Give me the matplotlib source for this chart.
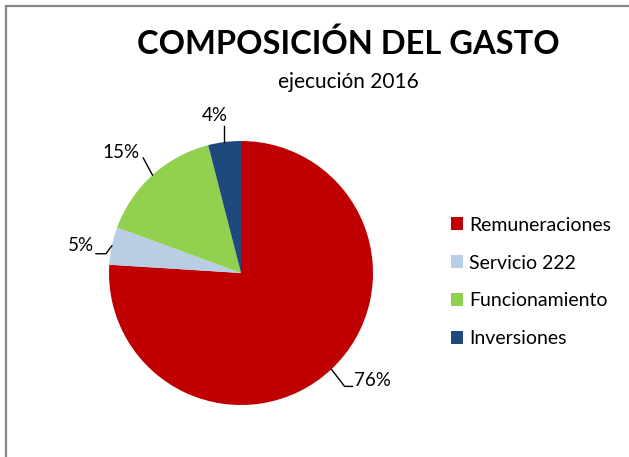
import numpy as np
import matplotlib
matplotlib.use("Agg")
import matplotlib.pyplot as plt
from matplotlib.patches import Rectangle, Patch

categories = ["Remuneraciones", "Servicio 222", "Funcionamiento", "Inversiones"]
values = [76.0, 4.6, 15.4, 4.0]
pct_labels = ["76%", "5%", "15%", "4%"]
colors = ["#C00000", "#B9CDE5", "#92D050", "#1F497D"]
title = "COMPOSICIÓN DEL GASTO"
subtitle = "ejecución 2016"

plt.rcParams['font.family'] = ['Lato', 'DejaVu Sans']

W, H = 629, 457
fig = plt.figure(figsize=(W / 100, H / 100), dpi=100)

# outer chart border (extends past right / bottom)
fig.patches.append(Rectangle((6.5 / W, -0.1), 1.2, (H - 6.5) / H + 0.1,
                             transform=fig.transFigure, fill=False,
                             edgecolor="#868686", linewidth=1.6))

R = 132.0
cx, cy = 241.0, H - 273.0
xl, xr, yb, yt = -1.6, 1.6, -1.3, 1.5
ax = fig.add_axes([(cx + xl * R) / W, (cy + yb * R) / H,
                   (xr - xl) * R / W, (yt - yb) * R / H])
wedges, _ = ax.pie(values, colors=colors, startangle=90, counterclock=False,
                   radius=1.0, wedgeprops=dict(linewidth=0))
ax.set_xlim(xl, xr)
ax.set_ylim(yb, yt)
ax.set_aspect('equal', adjustable='box')
ax.axis('off')

lab_fs = 13.5
for w, lab in zip(wedges, pct_labels):
    mid = np.deg2rad((w.theta1 + w.theta2) / 2.0)
    ex, ey = np.cos(mid), np.sin(mid)
    if lab == "4%":
        p1 = (ex, ey)
        p2 = (ex, ey + 0.12)
        ax.plot([p1[0], p2[0]], [p1[1], p2[1]], color="black", lw=1.0)
        ax.text(ex - 0.07, ey + 0.14, lab, ha="center", va="bottom", fontsize=lab_fs)
    elif lab == "15%":
        p1 = (ex, ey)
        p2 = (ex - 0.07, ey + 0.13)
        ax.plot([p1[0], p2[0]], [p1[1], p2[1]], color="black", lw=1.0)
        ax.text(ex - 0.1, ey + 0.17, lab, ha="right", va="center", fontsize=lab_fs)
    elif lab == "5%":
        p1 = (ex, ey)
        p2 = (ex - 0.045, ey - 0.06)
        p3 = (ex - 0.12, ey - 0.06)
        ax.plot([p1[0], p2[0], p3[0]], [p1[1], p2[1], p3[1]], color="black", lw=1.0)
        ax.text(ex - 0.135, ey + 0.005, lab, ha="right", va="center", fontsize=lab_fs)
    else:
        p1 = (ex, ey)
        p2 = (ex + 0.1, ey - 0.13)
        p3 = (ex + 0.16, ey - 0.13)
        ax.plot([p1[0], p2[0], p3[0]], [p1[1], p2[1], p3[1]], color="black", lw=1.0)
        ax.text(ex + 0.17, ey - 0.085, lab, ha="left", va="center", fontsize=lab_fs)

fig.text(348 / W, 1 - 44 / H, title, ha="center", va="center",
         fontsize=23.5, fontweight="bold")
fig.text(348 / W, 1 - 82 / H, subtitle, ha="center", va="center", fontsize=15)

handles = [Patch(facecolor=c, edgecolor="none") for c in colors]
fig.legend(handles, categories, loc="center left",
           bbox_to_anchor=(433 / W, 1 - 282 / H), frameon=False,
           fontsize=14, handlelength=0.65, handleheight=0.65,
           handletextpad=0.3, labelspacing=1.07)

fig.savefig("out.png", dpi=100)
